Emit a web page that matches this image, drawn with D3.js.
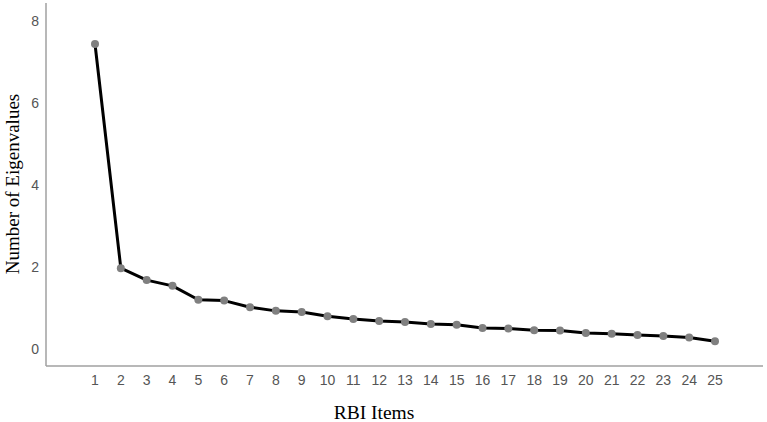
<!DOCTYPE html>
<html>
<head>
<meta charset="utf-8">
<script src="https://cdn.jsdelivr.net/npm/d3@7"></script>
<style>
  body { margin: 0; background: #fff; }
</style>
</head>
<body>
<script>
// scree plot values
const items = d3.range(1, 26);
const eigen = [7.44, 1.97, 1.68, 1.54, 1.20, 1.18, 1.02, 0.93, 0.90, 0.80,
               0.73, 0.68, 0.66, 0.61, 0.59, 0.51, 0.50, 0.46, 0.45, 0.39,
               0.37, 0.34, 0.32, 0.28, 0.19];
const yTicks = [0, 2, 4, 6, 8];

const width = 767, height = 422;

const svg = d3.select("body").append("svg")
  .attr("width", width)
  .attr("height", height);

const x = d3.scaleLinear().domain([1, 25]).range([95, 715]);
const y = d3.scaleLinear().domain([0, 8]).range([349, 21]);

// axis frame
svg.append("line")
  .attr("x1", 46).attr("x2", 46).attr("y1", 3).attr("y2", 366)
  .attr("stroke", "#a0a0a0").attr("stroke-width", 1.5);
svg.append("line")
  .attr("x1", 46).attr("x2", 763).attr("y1", 366).attr("y2", 366)
  .attr("stroke", "#a0a0a0").attr("stroke-width", 1.5);

svg.append("g")
    .attr("font-family", "Liberation Sans, Arial, sans-serif")
    .attr("font-size", 14)
    .attr("fill", "#555")
    .attr("text-anchor", "end")
  .selectAll("text")
  .data(yTicks)
  .join("text")
    .attr("x", 39)
    .attr("y", d => y(d))
    .attr("dy", "0.35em")
    .text(d => d);

svg.append("g")
    .attr("font-family", "Liberation Sans, Arial, sans-serif")
    .attr("font-size", 14)
    .attr("fill", "#555")
    .attr("text-anchor", "middle")
  .selectAll("text")
  .data(items)
  .join("text")
    .attr("x", d => x(d))
    .attr("y", 380)
    .attr("dy", "0.35em")
    .text(d => d);

const line = d3.line()
  .x((d, i) => x(items[i]))
  .y(d => y(d));

svg.append("path")
  .datum(eigen)
  .attr("fill", "none")
  .attr("stroke", "#000")
  .attr("stroke-width", 3)
  .attr("stroke-linejoin", "round")
  .attr("d", line);

svg.append("g")
    .attr("fill", "#808080")
  .selectAll("circle")
  .data(eigen)
  .join("circle")
    .attr("cx", (d, i) => x(items[i]))
    .attr("cy", d => y(d))
    .attr("r", 4);

svg.append("text")
  .attr("x", 374)
  .attr("y", 419)
  .attr("text-anchor", "middle")
  .attr("font-family", "Liberation Serif, Times New Roman, serif")
  .attr("font-size", 19.5)
  .attr("fill", "#000")
  .text("RBI Items");

svg.append("text")
  .attr("transform", "translate(19,184) rotate(-90)")
  .attr("text-anchor", "middle")
  .attr("font-family", "Liberation Serif, Times New Roman, serif")
  .attr("font-size", 19)
  .attr("fill", "#000")
  .text("Number of Eigenvalues");
</script>
</body>
</html>
